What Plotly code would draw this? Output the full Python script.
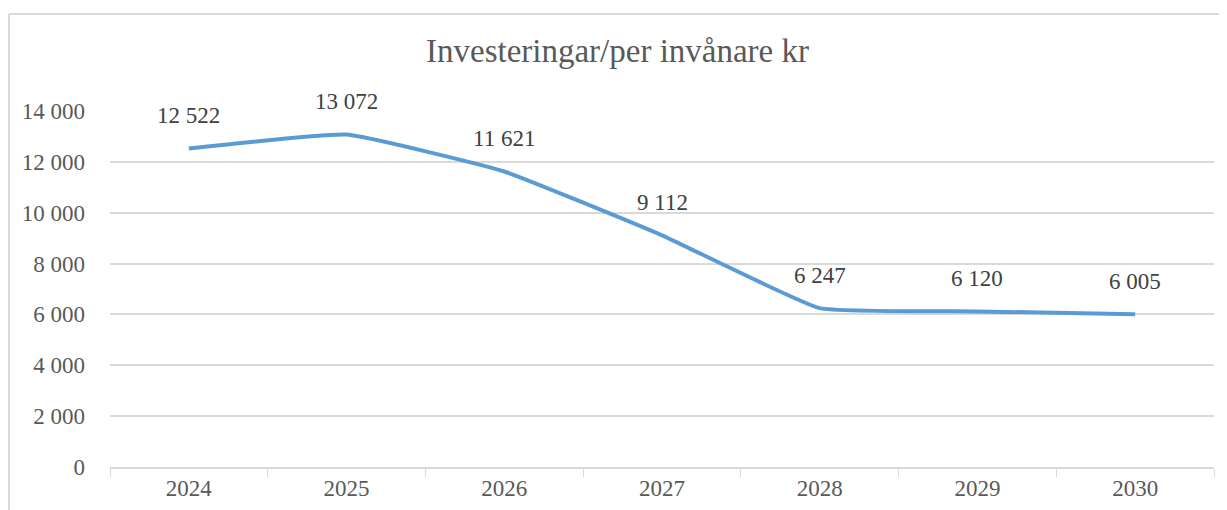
import plotly.graph_objects as go

years = ["2024", "2025", "2026", "2027", "2028", "2029", "2030"]
values = [12522, 13072, 11621, 9112, 6247, 6120, 6005]
y_ticks = [0, 2000, 4000, 6000, 8000, 10000, 12000, 14000]


def fmt(v):
    return f"{v:,}".replace(",", " ")


# page body has an 8px margin, so the figure is drawn 8px smaller / offset
OFF = 8
W, H = 1227 - OFF, 510 - OFF
ML, MR, MT, MB = 110 - OFF, 21 - OFF, 111 - OFF, 43
FONT = "Liberation Serif"

fig = go.Figure()
fig.add_trace(
    go.Scatter(
        x=years,
        y=values,
        mode="lines",
        line=dict(color="#5B9BD5", width=4, shape="spline", smoothing=0.35),
        hoverinfo="skip",
    )
)

# data labels above each point (x as category index)
for i, v in enumerate(values):
    fig.add_annotation(
        x=i, y=v, text=fmt(v), showarrow=False, yshift=33,
        font=dict(family=FONT, size=23, color="#404040"),
    )

fig.update_layout(
    width=W,
    height=H,
    margin=dict(l=ML, r=MR, t=MT, b=MB, autoexpand=False),
    plot_bgcolor="white",
    paper_bgcolor="white",
    showlegend=False,
    title=dict(
        text="Investeringar/per invånare kr",
        x=((423 + 812) / 2 - OFF) / W,
        xanchor="center",
        y=1 - (50 - OFF) / H,
        yanchor="middle",
        font=dict(family=FONT, size=33, color="#595959"),
    ),
)
fig.update_xaxes(
    type="category",
    range=[-0.5, len(years) - 0.5],
    showgrid=False,
    showline=True,
    linecolor="#d9d9d9",
    linewidth=1.5,
    ticks="outside",
    tickson="boundaries",
    ticklen=8,
    tickcolor="#d9d9d9",
    tickangle=0,
    automargin=False,
    tickfont=dict(family=FONT, size=23, color="#595959"),
    fixedrange=True,
)
fig.update_yaxes(
    range=[0, 14000],
    tickvals=y_ticks,
    ticktext=[fmt(t) for t in y_ticks],
    showgrid=True,
    gridcolor="#d9d9d9",
    gridwidth=1.5,
    zeroline=False,
    showline=False,
    ticks="",
    ticklabelstandoff=24,
    automargin=False,
    tickfont=dict(family=FONT, size=23, color="#595959"),
    fixedrange=True,
)

# outer chart border (top and left visible)
pw, ph = W - ML - MR, H - MT - MB
x_left = (1 - ML) / pw
y_top = (H - MB - (14 - OFF)) / ph
x_right = (W - ML) / pw
fig.add_shape(type="line", xref="paper", yref="paper", x0=x_left, x1=x_right,
              y0=y_top, y1=y_top, line=dict(color="#d9d9d9", width=2))
fig.add_shape(type="line", xref="paper", yref="paper", x0=x_left, x1=x_left,
              y0=y_top, y1=-MB / ph, line=dict(color="#d9d9d9", width=2))

fig.write_html("out.html")
